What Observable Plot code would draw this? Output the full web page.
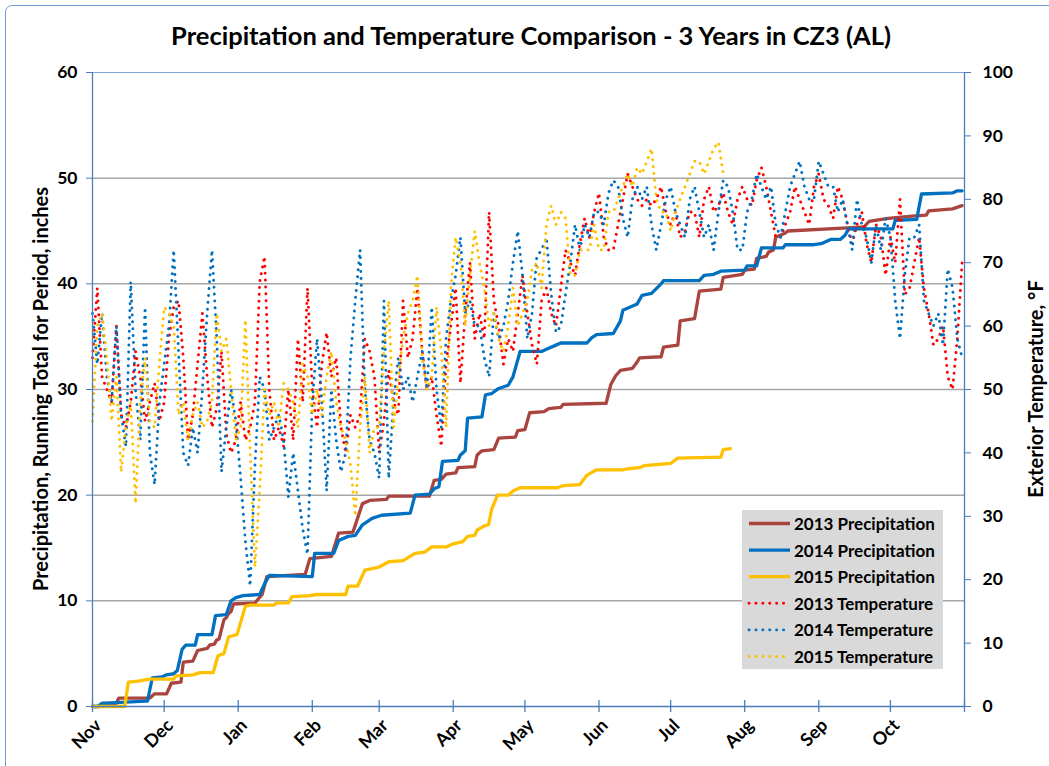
<!DOCTYPE html>
<html><head><meta charset="utf-8">
<script src="https://cdn.jsdelivr.net/npm/d3@7"></script>
<script src="https://cdn.jsdelivr.net/npm/@observablehq/plot@0.6"></script>
<style>
body{margin:0;background:#fff;}
#wrap{position:relative;width:1049px;height:766px;overflow:hidden;background:#fff;}
#border{position:absolute;left:5px;top:5px;width:1070px;height:790px;border:1.5px solid #6f9bd4;border-radius:7px;box-sizing:border-box;pointer-events:none;}
#chart{position:absolute;left:0;top:0;}
</style></head>
<body><div id="wrap"><div id="chart"></div><div id="border"></div></div>
<script>
// ---- axis / category data ----
const months = ["Nov","Dec","Jan","Feb","Mar","Apr","May","Jun","Jul","Aug","Sep","Oct"];
const monthStartDay = [0,30,61,92,120,151,181,212,242,273,304,334];
const periodDays = 365;
const precipTicks = [0,10,20,30,40,50,60];
const tempTicks = [0,10,20,30,40,50,60,70,80,90,100];
const tempMax = 100, precipMax = 60;

// ---- daily temperature (°F), one value every tempStepDays days from Nov 1 ----
const tempStepDays = 2;
const temp2013 = [
 55,66,52,50,48,60,46,44,48,56,52,45,48,51,45,48,58,63,64,55,42,46,54,62,52,44,47,56,43,40,42,48,42,44,48,67,71,50,42,44,41,50,
 42,58,48,66,50,44,54,59,52,55,44,40,46,44,46,58,56,52,40,45,53,48,46,64,55,58,66,56,50,52,46,41,54,60,66,51,62,70,58,62,58,
 78,64,60,54,58,56,62,68,62,57,54,64,66,62,60,66,72,70,68,73,77,74,78,81,74,72,72,76,80,84,82,80,79,80,79,80,82,78,76,78,74,75,78,78,74,80,82,78,79,
 81,78,76,80,82,80,79,83,85,82,78,74,74,76,78,82,80,78,76,82,84,80,79,77,82,80,76,73,76,78,73,70,76,74,68,74,70,80,65,66,70,74,66,62,57,58,60,52,50,58,70
];
const temp2014 = [
 62,54,62,52,48,60,46,41,67,50,42,63,40,35,48,54,60,72,56,40,38,44,40,50,62,72,58,37,44,50,45,36,26,19,38,52,50,42,44,46,42,33,
 40,34,28,24,48,58,48,34,50,42,37,40,55,64,72,50,42,40,36,64,36,48,55,50,52,48,52,56,50,63,50,44,58,64,68,74,62,64,60,60,55,
 52,62,58,60,64,70,75,68,58,62,71,72,74,65,59,60,65,70,76,72,76,74,78,78,76,81,83,82,77,74,80,82,80,82,76,72,76,80,82,78,76,74,80,82,78,74,76,72,78,
 83,82,78,72,72,78,80,84,82,80,82,76,74,78,82,84,86,82,80,80,86,84,82,82,78,80,76,72,80,76,74,70,76,72,77,74,64,58,68,74,74,76,64,62,60,62,57,69,66,58,55
];
const temp2015 = [
 45,60,62,55,45,52,37,44,48,32,48,55,45,44,54,63,62,60,46,48,42,46,48,44,45,48,62,56,58,50,42,44,61,40,22,34,50,46,48,44,51,50,
 48,44,54,52,46,50,46,52,56,48,44,42,38,30,44,52,40,44,44,56,64,44,52,58,62,64,68,55,50,52,63,56,44,66,74,70,60,68,75,70,66,
 60,62,58,56,60,66,60,62,64,69,70,66,76,79,76,78,77,68,68,72,72,72,76,72,72,78,78,80,82,84,82,85,84,86,88,80,78,78,75,78,80,82,84,86,86,84,86,88,89,84
];

// ---- running precipitation total (inches): [day since Nov 1, total] ----
const precip2013 = [[0,0],[3,0],[4,0.3],[10,0.3],[11,0.8],[24,0.8],[26,1.2],[31,1.2],[33,2.2],[37,2.3],[38,4.2],[42,4.3],[44,5.3],[48,5.5],[49,5.8],[51,5.9],[52,6.3],[53,6.4],[55,8.2],[56,8.4],[57,8.8],[58,9.0],[59,9.7],[68,9.8],[71,10.6],[73,12.3],[89,12.5],[91,14.0],[100,14.2],[103,16.4],[109,16.5],[113,19.2],[116,19.5],[123,19.6],[124,19.9],[141,19.9],[143,21.4],[146,21.5],[148,22.0],[152,22.1],[153,22.6],[160,22.7],[161,23.8],[163,24.2],[168,24.3],[170,25.4],[177,25.5],[178,26.1],[181,26.2],[183,27.8],[189,27.9],[191,28.2],[196,28.3],[197,28.6],[215,28.7],[217,30.5],[219,31.3],[221,31.8],[226,32.0],[228,32.6],[229,33.0],[238,33.1],[239,34.0],[245,34.2],[246,36.5],[252,36.7],[254,39.3],[263,39.5],[264,40.6],[272,40.9],[273,41.3],[277,41.4],[278,42.4],[282,42.6],[283,43.0],[285,43.2],[286,44.4],[290,44.8],[291,45.0],[316,45.3],[323,45.4],[325,45.9],[333,46.2],[343,46.4],[349,46.5],[350,46.9],[360,47.1],[364,47.4]];
const precip2014 = [[0,0],[2,0],[4,0.3],[22,0.5],[23,0.5],[25,2.7],[29,2.8],[31,3.0],[34,3.1],[35.5,3.4],[37.5,5.4],[39,5.8],[43,5.8],[44,6.8],[50,6.8],[51.5,8.6],[56,8.7],[58,10.0],[60,10.3],[63,10.5],[70,10.6],[72,11.6],[74,12.4],[92,12.3],[93,14.5],[101,14.5],[103,15.7],[107,16.1],[110,16.2],[113,17.2],[117,17.8],[121,18.1],[133,18.3],[135,20.0],[141,20.1],[143,20.6],[145,20.8],[146.5,23.2],[153,23.3],[154,23.8],[156,24.2],[157,27.3],[163,27.4],[164.5,29.5],[167,29.6],[170,30.1],[174,30.4],[176,31.2],[178,32.8],[179,33.6],[188,33.6],[190,33.8],[194,34.2],[196,34.4],[207,34.4],[209,34.9],[211,35.2],[218,35.3],[221,36.5],[222,37.5],[228,38.1],[230,38.9],[234,39.1],[238,40.0],[239,40.3],[254,40.3],[256,40.8],[260,40.9],[263,41.2],[273,41.3],[274,41.7],[278,41.7],[280,43.4],[289,43.4],[290,43.7],[302,43.7],[305,43.8],[309,44.2],[313,44.2],[315,44.6],[316.5,45.2],[335,45.2],[336,46.0],[345,46.1],[347,48.5],[360,48.6],[362,48.8],[364,48.8]];
const precip2015 = [[0,0],[13.5,0],[15,2.3],[19,2.4],[24,2.6],[34,2.6],[35,2.9],[42,3.0],[45,3.2],[50.5,3.2],[52.5,4.8],[55,5.0],[57,6.6],[60.5,6.8],[64,9.5],[66,9.6],[76,9.6],[77,9.8],[82,9.8],[83.5,10.4],[91,10.5],[94,10.6],[106,10.6],[107,11.4],[111,11.4],[114,12.9],[120,13.2],[124,13.7],[130,13.8],[135,14.5],[139,14.6],[142,15.1],[148,15.1],[151,15.4],[155,15.6],[157,16.1],[160,16.2],[161,16.7],[164,17.1],[165.8,17.2],[167,18.6],[169.5,20.0],[174,20.0],[176,20.4],[179,20.7],[194.6,20.7],[197,20.9],[204,21.0],[207,21.9],[211,22.4],[222,22.4],[224,22.5],[229,22.6],[231,22.8],[242,23.0],[245,23.5],[263,23.6],[264,24.3],[267,24.4]];

const seriesNames = ["2013 Precipitation","2014 Precipitation","2015 Precipitation","2013 Temperature","2014 Temperature","2015 Temperature"];
const seriesColors = ["#a9443f","#0070c0","#ffc000","#ff0000","#0070c0","#ffc000"];

// ---- build tables ----
const scaleT = precipMax / tempMax; // right axis -> left axis units
const precipSets = [precip2013, precip2014, precip2015];
const tempSets = [temp2013, temp2014, temp2015];
const precipRows = precipSets.map(arr => arr.map(([d, v]) => ({day: d, value: v})));
const tempRows = tempSets.map(arr => arr.map((t, i) => ({day: i * tempStepDays, value: t * scaleT})));

const axisBlue = "#4a7ebb";
const dotted = {strokeWidth: 2.9, strokeDasharray: "0.1 6.8", strokeLinecap: "round", strokeLinejoin: "round"};
const xTicks = [...monthStartDay, periodDays];

const plot = Plot.plot({
  width: 1049, height: 766,
  marginLeft: 92, marginRight: 85, marginTop: 72, marginBottom: 60,
  x: {domain: [0, periodDays], axis: null},
  y: {domain: [0, precipMax], axis: null},
  style: {fontFamily: "Lato, 'Open Sans', sans-serif", fontSize: "16px", overflow: "visible", background: "transparent"},
  marks: [
    Plot.ruleY(precipTicks.filter(v => v > 0 && v < precipMax), {stroke: "#a6a6a6", strokeWidth: 1.5}),
    Plot.ruleY([precipMax], {stroke: "#7ea6d8", strokeWidth: 1.2}),
    ...precipRows.map((rows, i) => Plot.line(rows, {x: "day", y: "value", stroke: seriesColors[i], strokeWidth: 3.3, strokeLinejoin: "round"})),
    ...tempRows.map((rows, i) => Plot.line(rows, {x: "day", y: "value", stroke: seriesColors[i + 3], ...dotted})),
    // axis lines
    Plot.ruleX([0], {stroke: axisBlue, strokeWidth: 1.3}),
    Plot.ruleX([periodDays], {stroke: axisBlue, strokeWidth: 1.3}),
    Plot.ruleY([0], {stroke: axisBlue, strokeWidth: 1.3}),
    // bottom crossing ticks
    Plot.ruleX(xTicks, {x: d => d, stroke: axisBlue, strokeWidth: 1.3, insetTop: 628, insetBottom: -6}),
    // left axis
    Plot.axisY(precipTicks, {anchor: "left", tickSize: 6, tickPadding: 9, stroke: axisBlue, fill: "#000", fontSize: 17.5, fontWeight: "bold", label: null}),
    // right axis (temperature)
    Plot.axisY(tempTicks.map(t => t * scaleT), {anchor: "right", tickSize: 6, tickPadding: 12, stroke: axisBlue, fill: "#000", fontSize: 17.5, fontWeight: "bold", label: null, tickFormat: v => String(Math.round(v / scaleT))}),
    // month labels
    Plot.text(monthStartDay, {x: d => d, y: 0, text: (d, i) => months[i], rotate: -45, textAnchor: "end", dx: 6, dy: 16, fontSize: 18, fontWeight: "bold", fill: "#000"})
  ]
});
document.getElementById("chart").appendChild(plot);

// ---- titles and legend ----
const svg = d3.select(plot);
const font = "Lato, 'Open Sans', sans-serif";
svg.append("text").attr("x", 531).attr("y", 45).attr("text-anchor", "middle")
  .attr("font-family", font).attr("font-weight", "bold").attr("font-size", 25.5).attr("fill", "#000")
  .text("Precipitation and Temperature Comparison - 3 Years in CZ3 (AL)");
svg.append("text").attr("transform", "translate(40,389) rotate(-90)").attr("text-anchor", "middle").attr("dominant-baseline", "central")
  .attr("font-family", font).attr("font-weight", "bold").attr("font-size", 20).attr("fill", "#000")
  .text("Precipitation, Running Total for Period, inches");
svg.append("text").attr("transform", "translate(1035,389) rotate(-90)").attr("text-anchor", "middle").attr("dominant-baseline", "central")
  .attr("font-family", font).attr("font-weight", "bold").attr("font-size", 20).attr("fill", "#000")
  .text("Exterior Temperature, °F");

const lg = svg.append("g");
lg.append("rect").attr("x", 742).attr("y", 510).attr("width", 201).attr("height", 159).attr("fill", "#d9d9d9");
seriesNames.forEach((name, i) => {
  const y = 523.5 + i * 26.6;
  const ln = lg.append("line").attr("x1", 749).attr("x2", 790).attr("y1", y).attr("y2", y).attr("stroke", seriesColors[i]);
  if (i < 3) ln.attr("stroke-width", 3.3);
  else ln.attr("stroke-width", 2.9).attr("stroke-dasharray", "0.1 6.8").attr("stroke-linecap", "round");
  lg.append("text").attr("x", 794).attr("y", y).attr("text-anchor", "start").attr("dominant-baseline", "central")
    .attr("font-family", font).attr("font-weight", "bold").attr("font-size", 17).attr("fill", "#000").text(name);
});
</script></body></html>
